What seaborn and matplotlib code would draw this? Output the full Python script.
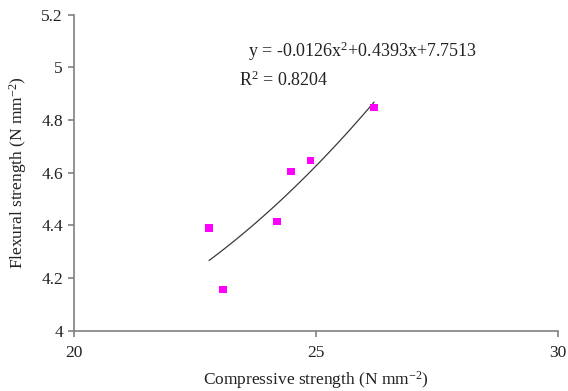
import matplotlib
matplotlib.use("Agg")
import matplotlib.pyplot as plt
import seaborn as sns
import pandas as pd

compressive = [22.79, 23.08, 24.19, 24.48, 24.89, 26.20]
flexural = [4.391, 4.157, 4.414, 4.604, 4.646, 4.847]
x_ticks = [20, 25, 30]
y_ticks = [4, 4.2, 4.4, 4.6, 4.8, 5, 5.2]
y_tick_labels = ["4", "4.2", "4.4", "4.6", "4.8", "5", "5.2"]

df = pd.DataFrame({"x": compressive, "y": flexural})

sns.set_style("white")
plt.rcParams["font.family"] = ["Liberation Serif", "DejaVu Serif"]
plt.rcParams["mathtext.fontset"] = "custom"
plt.rcParams["mathtext.rm"] = "Liberation Serif"
plt.rcParams["mathtext.it"] = "Liberation Serif:italic"

fig = plt.figure(figsize=(5.68, 3.91), dpi=100)
ax = fig.add_axes([74 / 568, 1 - 330.7 / 391, (558 - 74) / 568, (330.7 - 14.7) / 391])

sns.regplot(data=df, x="x", y="y", order=2, ci=None, scatter=False, truncate=True,
            line_kws=dict(color="#3a3a3a", lw=0.9), ax=ax)
sns.scatterplot(data=df, x="x", y="y", marker="s", s=30, color="#FF00FF",
                edgecolor="none", ax=ax, zorder=3)

ax.set_xlim(20, 30)
ax.set_ylim(4, 5.2)
ax.set_xticks(x_ticks)
ax.set_xticklabels([str(t) for t in x_ticks])
ax.set_yticks(y_ticks)
ax.set_yticklabels(y_tick_labels)

for s in ["top", "right"]:
    ax.spines[s].set_visible(False)
for s in ["left", "bottom"]:
    ax.spines[s].set_color("#808080")
    ax.spines[s].set_linewidth(1.2)
ax.tick_params(axis="both", direction="out", length=4, width=1.2, color="#808080",
               labelsize=12.5, labelcolor="#222222", bottom=True, left=True)
ax.tick_params(axis="x", pad=6)
ax.tick_params(axis="y", pad=4)
for lbl in ax.get_xticklabels():
    lbl.set_clip_on(False)

ax.set_xlabel("Compressive strength (N mm$^{-2}$)", fontsize=12.5, color="#222222", labelpad=6)
ax.set_ylabel("Flexural strength (N mm$^{-2}$)", fontsize=12.5, color="#222222", labelpad=9)

ax.text(23.6, 5.06, "y = -0.0126x$^{2}$+0.4393x+7.7513", fontsize=13, color="#222222",
        va="center", ha="left")
ax.text(23.41, 4.952, "R$^{2}$ = 0.8204", fontsize=13, color="#222222",
        va="center", ha="left")

fig.savefig("out.png", dpi=100)
